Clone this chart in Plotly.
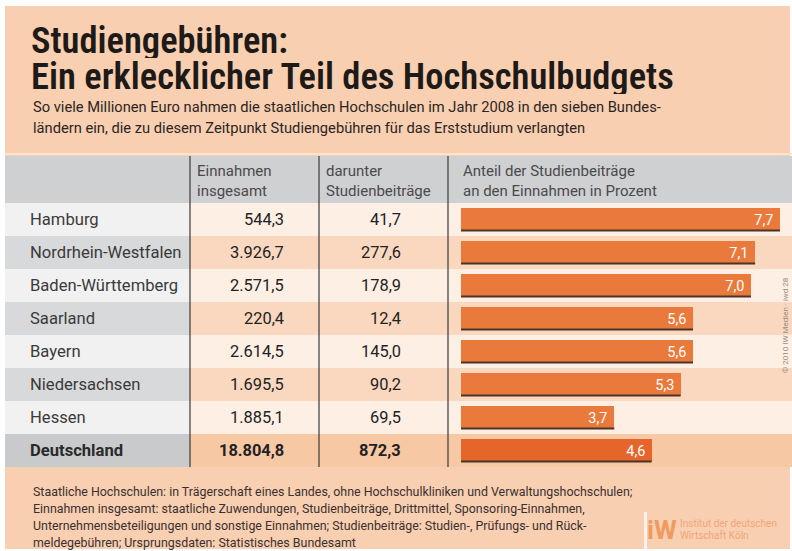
import plotly.graph_objects as go

# ---------------- data ----------------
states = ["Hamburg", "Nordrhein-Westfalen", "Baden-Württemberg", "Saarland",
          "Bayern", "Niedersachsen", "Hessen", "Deutschland"]
einnahmen = [544.3, 3926.7, 2571.5, 220.4, 2614.5, 1695.5, 1885.1, 18804.8]
beitraege = [41.7, 277.6, 178.9, 12.4, 145.0, 90.2, 69.5, 872.3]
anteil = [7.7, 7.1, 7.0, 5.6, 5.6, 5.3, 3.7, 4.6]

title_lines = ["Studiengebühren:", "Ein erklecklicher Teil des Hochschulbudgets"]
subtitle_lines = ["So viele Millionen Euro nahmen die staatlichen Hochschulen im Jahr 2008 in den sieben Bundes-",
                  "ländern ein, die zu diesem Zeitpunkt Studiengebühren für das Erststudium verlangten"]
col_headers = ["Einnahmen<br>insgesamt", "darunter<br>Studienbeiträge",
               "Anteil der Studienbeiträge<br>an den Einnahmen in Prozent"]
footer_lines = [
    "Staatliche Hochschulen: in Trägerschaft eines Landes, ohne Hochschulkliniken und Verwaltungshochschulen;",
    "Einnahmen insgesamt: staatliche Zuwendungen, Studienbeiträge, Drittmittel, Sponsoring-Einnahmen,",
    "Unternehmensbeteiligungen und sonstige Einnahmen; Studienbeiträge: Studien-, Prüfungs- und Rück-",
    "meldegebühren; Ursprungsdaten: Statistisches Bundesamt",
]
copyright_text = "© 2010 IW Medien · iwd 28"
logo_lines = ["Institut der deutschen", "Wirtschaft Köln"]

W, H = 792, 551
def px(x): return x / W
def py(y): return 1 - y / H

def de(v, dec=1):
    s = f"{v:,.{dec}f}"
    return s.replace(",", "X").replace(".", ",").replace("X", ".")

FONT = "Roboto, Open Sans, sans-serif"
TFONT = "Liberation Sans Narrow, Roboto Condensed, Roboto, sans-serif"

PEACH = "#f8cfb1"
HDR = "#cfd0d2"
LAB_L, LAB_D, LAB_T = "#f1f1f1", "#d8d9da", "#c9cacb"
DAT_L, DAT_D, DAT_T = "#fdefe4", "#f9d8bf", "#f7c8a4"
BAR, BAR_T = "#ea7a3c", "#e5652b"

n = len(states)
bar_colors = [BAR] * (n - 1) + [BAR_T]

fig = go.Figure()
fig.add_trace(go.Bar(
    x=anteil, y=states, orientation="h", width=0.7,
    marker=dict(color=bar_colors, line=dict(width=0)),
    text=[de(a) + "\u00a0" for a in anteil], textposition="inside", insidetextanchor="end",
    textfont=dict(family=FONT, size=17, color="white"), textangle=0,
    cliponaxis=False, hoverinfo="skip",
))

shapes = []
# page background
shapes.append(dict(type="rect", xref="paper", yref="paper", x0=px(5), x1=px(790), y0=py(549), y1=py(6),
                   fillcolor=PEACH, line=dict(width=0), layer="below"))
# header
shapes.append(dict(type="rect", xref="paper", yref="paper", x0=px(5), x1=px(792), y0=py(203), y1=py(156),
                   fillcolor=HDR, line=dict(width=0), layer="below"))
shapes.append(dict(type="line", xref="paper", yref="paper", x0=px(5), x1=px(792), y0=py(154), y1=py(154),
                   line=dict(color="#fbe3d2", width=2), layer="below"))
# rows
for i in range(n):
    last = i == n - 1
    lab = LAB_T if last else (LAB_L if i % 2 == 0 else LAB_D)
    dat = DAT_T if last else (DAT_L if i % 2 == 0 else DAT_D)
    shapes.append(dict(type="rect", xref="paper", yref="y", x0=px(5), x1=px(190), y0=i - 0.5, y1=i + 0.5,
                       fillcolor=lab, line=dict(width=0), layer="below"))
    shapes.append(dict(type="rect", xref="paper", yref="y", x0=px(190), x1=px(792), y0=i - 0.5, y1=i + 0.5,
                       fillcolor=dat, line=dict(width=0), layer="below"))
    # dark bottom edge of each bar
    shapes.append(dict(type="line", xref="x", yref="y", x0=0, x1=anteil[i], y0=i + 0.33, y1=i + 0.33,
                       line=dict(color="#4a3428", width=2), layer="above"))
# column separators
for xs in (190, 319, 448):
    shapes.append(dict(type="line", xref="paper", yref="paper", x0=px(xs), x1=px(xs), y0=py(467), y1=py(156),
                       line=dict(color="#3a3a3a", width=1.2), layer="above"))
# logo white bar
shapes.append(dict(type="rect", xref="paper", yref="paper", x0=px(644), x1=px(647), y0=py(549), y1=py(512),
                   fillcolor="#fdf3ec", line=dict(width=0), layer="below"))

ann = []
# title
for k, t in enumerate(title_lines):
    ann.append(dict(text=t, x=px(29), y=py(40 + 36 * k), xref="paper", yref="paper", xanchor="left",
                    yanchor="middle", showarrow=False, height=36, valign="middle",
                    font=dict(family=TFONT, size=36.5, color="#1e1a18", weight=600)))
for k, t in enumerate(subtitle_lines):
    ann.append(dict(text=t, x=px(31), y=py(107 + 21 * k), xref="paper", yref="paper", xanchor="left",
                    yanchor="middle", showarrow=False, font=dict(family=FONT, size=14.7, color="#2a2523")))
# column headers
for t, xl in zip(col_headers, (195, 324, 461)):
    ann.append(dict(text=t, x=px(xl), y=py(181), xref="paper", yref="paper", xanchor="left",
                    yanchor="middle", align="left", showarrow=False,
                    font=dict(family=FONT, size=15, color="#4a4a4a")))
# row labels and values
for i, s in enumerate(states):
    last = i == n - 1
    w = 700 if last else 400
    col = "#2a2a2a" if last else "#3a3a3a"
    ann.append(dict(text=s, x=px(28), y=s, xref="paper", yref="y", xanchor="left", yanchor="middle",
                    showarrow=False, font=dict(family=FONT, size=16.6, color=col, weight=w)))
    ann.append(dict(text=de(einnahmen[i]), x=px(286), y=s, xref="paper", yref="y", xanchor="right",
                    yanchor="middle", showarrow=False, font=dict(family=FONT, size=16.4, color="#222", weight=w)))
    ann.append(dict(text=de(beitraege[i]), x=px(403), y=s, xref="paper", yref="y", xanchor="right",
                    yanchor="middle", showarrow=False, font=dict(family=FONT, size=16.4, color="#222", weight=w)))
# footer
for k, t in enumerate(footer_lines):
    ann.append(dict(text=t, x=px(31), y=py(491 + 17 * k), xref="paper", yref="paper", xanchor="left",
                    yanchor="middle", showarrow=False, font=dict(family=FONT, size=12.4, color="#3a3030")))
# logo
ann.append(dict(text="<b>iW</b>", x=px(662), y=py(530), xref="paper", yref="paper", xanchor="center",
                yanchor="middle", showarrow=False, font=dict(family=FONT, size=26, color="#ef9a60")))
for k, t in enumerate(logo_lines):
    ann.append(dict(text=t, x=px(678), y=py(523 + 12 * k), xref="paper", yref="paper", xanchor="left",
                    yanchor="middle", showarrow=False, font=dict(family=FONT, size=10, color="#f0a678")))
# copyright vertical
ann.append(dict(text=copyright_text, x=px(785), y=py(325), xref="paper", yref="paper", xanchor="center",
                yanchor="middle", textangle=-90, showarrow=False,
                font=dict(family=FONT, size=8, color="#9a8a80")))

bar_px_per_unit = (780 - 461) / 7.7
fig.update_layout(
    width=W, height=H, margin=dict(l=0, r=0, t=0, b=0),
    paper_bgcolor="white", plot_bgcolor="rgba(0,0,0,0)",
    showlegend=False, shapes=shapes, annotations=ann,
    xaxis=dict(domain=[px(461), 1], range=[0, (792 - 461) / bar_px_per_unit], visible=False,
               fixedrange=True),
    yaxis=dict(domain=[py(467), py(203)], autorange="reversed", visible=False, fixedrange=True,
               categoryorder="array", categoryarray=states),
    bargap=0,
)
fig.write_html("out.html", config={"displayModeBar": False},
               post_script="document.body.style.margin='0';document.body.style.overflow='hidden';")
